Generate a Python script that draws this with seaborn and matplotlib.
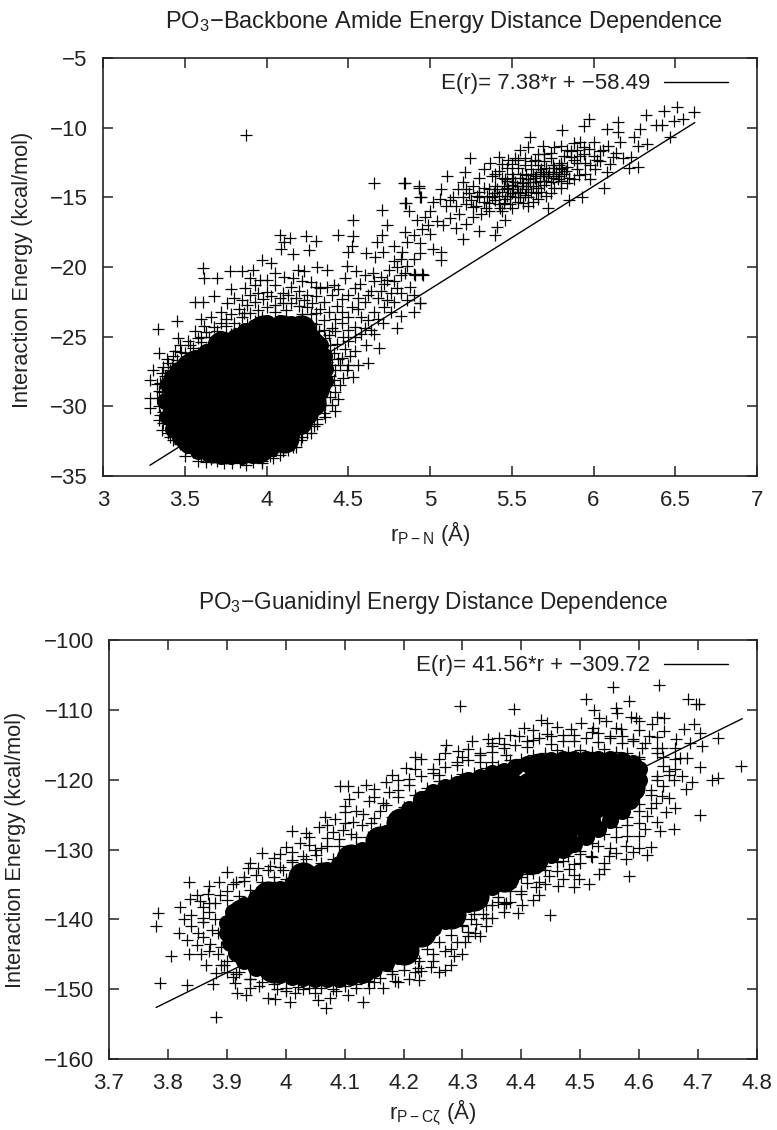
import matplotlib
matplotlib.use('Agg')
import matplotlib.pyplot as plt
import seaborn as sns

# values
# amide panel: points that can be told apart (r, E)
amide_points = [
    (3.876,-10.53),(4.66,-13.96),(4.845,-14.0),(4.93,-14.3),(4.945,-15.0),(4.855,-15.4),(4.705,-15.9),(4.87,-16.0),
    (4.53,-16.6),(4.74,-17.0),(4.08,-17.7),(4.145,-17.9),(4.11,-18.2),(4.24,-17.8),(4.30,-18.1),(4.09,-18.7),
    (4.165,-19.1),(4.26,-18.8),(4.435,-17.7),(4.53,-17.8),(4.52,-18.5),(4.50,-18.9),(3.335,-24.45),(3.455,-23.9),
    (3.56,-22.5),(3.61,-22.5),(3.68,-22.1),(3.61,-20.1),(3.62,-20.8),(3.70,-20.8),(3.775,-20.3),(3.85,-20.3),
    (3.92,-20.2),(3.97,-19.5),(4.03,-19.7),(3.78,-21.6),(3.87,-21.5),(3.93,-21.3),(4.0,-20.9),(4.11,-20.7),
    (4.19,-20.2),(4.23,-20.3),(4.31,-20.0),(4.37,-20.2),(4.27,-21.05),(4.33,-21.5),(4.41,-21.3),(4.48,-20.8),
    (4.55,-20.3),(4.49,-19.9),(4.61,-19.0),(4.665,-19.3),(4.715,-18.9),(4.78,-18.5),(4.82,-19.4),(4.675,-18.2),
    (4.705,-17.7),(4.42,-30.3),(4.31,-31.3),(4.44,-29.5),(4.45,-28.5),(4.53,-27.9),(4.62,-26.9),(4.69,-25.8),
    (4.56,-27.0),(4.49,-27.4),(4.51,-26.4),(4.54,-26.0),(4.61,-25.6),(4.655,-24.8),(4.8,-24.4),(4.71,-24.0),
    (4.82,-23.5),(4.76,-23.2),(4.94,-22.6),(4.9,-22.0),(4.88,-21.4),(4.8,-21.5),(4.95,-20.5),(4.9,-20.5),
    (3.5,-33.6),(3.58,-33.9),(3.63,-34.0),(3.74,-34.1),(3.875,-34.2),(3.97,-34.1),(4.04,-33.7),(4.10,-33.2),
    (4.16,-32.9),(4.22,-32.2),(3.285,-28.1),(3.305,-27.4),(3.36,-27.6),(3.285,-29.4),(3.29,-30.1),(3.34,-31.0),
    (3.36,-31.7),(3.41,-32.2),(3.345,-26.2),(3.44,-26.0),(3.46,-25.1),(3.33,-28.4),(3.36,-29.0),(3.37,-30.4),
    (3.39,-26.6),(3.42,-27.2),(3.47,-25.6),(3.52,-25.3),(3.56,-24.6),(3.62,-24.2),(3.6,-23.7),(3.66,-23.6),
    (3.72,-23.2),(3.76,-22.6),(3.8,-22.2),(3.85,-22.4),(3.9,-22.0),(3.95,-21.9),(4.0,-21.8),(4.05,-21.3),
    (4.1,-21.9),(4.15,-21.4),(4.2,-21.7),(4.25,-22.0),(4.3,-22.1),(4.35,-22.5),(4.4,-22.0),(4.43,-22.8),
    (4.38,-23.2),(4.42,-23.7),(4.46,-24.0),(4.5,-24.5),(4.47,-25.0),(4.43,-25.5),(4.48,-25.9),(4.44,-26.6),
    (4.42,-27.4),(4.45,-27.0),(4.41,-28.1),(4.42,-29.0),(4.4,-29.9),(4.36,-30.8),(4.33,-30.0),(4.27,-31.9),
    (4.52,-22.9),(4.56,-22.2),(4.6,-22.5),(4.64,-21.7),(4.68,-22.2),(4.72,-21.2),(4.76,-21.9),(4.58,-23.6),
    (4.62,-23.8),(4.66,-23.2),(4.72,-22.9),(4.57,-21.2),(4.6,-20.6),(4.65,-20.4),(4.7,-20.7),(4.75,-20.2),
    (4.8,-20.0),(4.85,-20.4),(4.78,-19.6),(4.83,-18.9),(4.86,-18.2),(4.9,-17.7),(4.95,-17.3),(4.85,-17.5),
    (4.92,-16.6),(4.97,-16.4),(5.0,-16.0),(4.99,-17.0),(5.04,-16.7),(4.94,-18.3),(5.0,-17.6),
    # upper cloud
    (6.615,-8.9),(6.51,-8.5),(6.43,-8.8),(6.32,-9.1),(6.545,-9.4),(6.49,-9.5),(6.38,-9.8),(6.42,-9.8),
    (6.47,-10.7),(6.285,-10.1),(6.245,-10.7),(6.325,-11.2),(6.27,-11.3),(6.15,-9.6),(6.08,-10.1),(5.97,-9.4),
    (5.94,-9.9),(5.805,-10.2),(5.61,-10.7),(6.15,-10.3),(6.16,-11.0),(6.09,-11.3),(6.12,-12.1),(6.18,-12.2),
    (6.23,-12.1),(6.27,-12.8),(6.22,-12.9),(6.08,-13.2),(6.065,-14.3),(5.93,-15.0),(5.85,-15.2),(5.72,-15.8),
    (5.46,-16.6),(5.41,-17.1),(5.4,-17.7),(5.3,-17.4),(5.2,-18.0),(5.07,-18.9),(5.065,-19.5),(5.02,-18.7),
    (4.96,-20.6),(4.91,-20.6),(4.94,-22.6),(5.245,-12.2),(5.105,-13.5),(5.215,-13.2),(5.07,-14.4),(4.93,-14.2),
    (4.84,-14.0),(4.94,-15.0),(4.85,-15.4),(5.02,-15.3),(5.06,-15.1),(5.1,-15.6),(5.14,-15.0),(5.18,-16.2),
    (5.12,-16.5),(5.08,-17.0),(5.16,-17.2),(5.22,-16.9),(5.26,-16.4),(5.22,-15.5),(5.17,-14.4),(5.2,-13.9),
    (5.26,-14.2),(5.3,-15.0),(5.34,-15.8),(5.3,-13.6),(5.33,-13.0),(5.37,-12.5),(5.42,-12.1),(5.36,-14.4),
    (5.4,-15.2),(5.44,-16.0),(5.5,-15.8),(5.54,-15.3),(5.6,-15.6),(5.66,-15.1),(5.47,-12.9),(5.52,-12.2),
    (5.55,-11.6),(5.6,-11.4),(5.64,-12.3),(5.69,-11.3),(5.74,-11.8),(5.8,-11.3),(5.84,-11.6),(5.88,-11.1),
    (5.92,-11.0),(5.97,-11.5),(6.0,-12.0),(6.04,-11.7),(5.95,-12.5),(6.01,-13.0),(5.9,-13.0),(5.85,-13.6),
    (5.8,-14.3),(5.74,-14.7),(5.35,-14.9),(5.4,-14.2),(5.44,-13.6),(5.48,-14.4),(5.52,-13.9),(5.56,-13.3),
    (5.6,-14.2),(5.64,-13.6),(5.68,-13.0),(5.72,-13.5),(5.76,-12.9),(5.8,-12.5),(5.84,-12.8),(5.88,-12.3),
    (5.92,-12.0),(5.42,-14.9),(5.46,-15.1),(5.5,-14.7),(5.54,-14.6),(5.58,-14.8),(5.62,-14.6),(5.66,-14.3),
    (5.7,-14.1),(5.74,-13.9),(5.78,-13.7),(5.82,-13.3),(5.5,-13.3),(5.54,-12.9),(5.58,-12.7),(5.62,-13.0),
    (5.66,-12.7),(5.7,-12.4),(5.74,-12.2),(5.45,-14.2),(5.5,-14.1),(5.56,-14.2),(5.6,-13.7),(5.65,-13.9),
    (5.7,-13.5),(5.75,-13.3),(5.8,-13.0),(5.3,-14.6),(5.25,-15.2),(5.38,-13.5),(5.42,-13.1),(5.46,-13.7),
    # darkest part of the upper cloud
    (5.44,-14.6),(5.47,-14.3),(5.49,-14.9),(5.51,-14.4),(5.53,-14.2),(5.55,-14.7),(5.57,-14.0),(5.59,-14.4),
    (5.61,-13.9),(5.63,-14.2),(5.65,-13.5),(5.67,-13.8),(5.69,-13.3),(5.71,-13.8),(5.73,-13.2),(5.75,-13.6),
    (5.77,-13.2),(5.79,-13.5),(5.81,-12.9),(5.83,-13.1),(5.47,-13.8),(5.51,-13.6),(5.55,-13.6),(5.59,-13.4),
    (5.63,-13.3),(5.67,-13.2),(5.71,-12.9),(5.75,-12.7),(5.79,-12.7),(5.36,-15.4),(5.39,-14.7),(5.42,-15.5),
    (5.33,-14.3),(5.28,-15.6),(5.24,-14.7),(5.2,-15.0),(5.16,-15.6),(5.12,-15.2),(5.86,-12.1),(5.9,-12.5),
    (5.94,-11.9),(5.98,-12.7),(6.02,-12.3),
    (5.22,-14.4),(5.26,-15.7),(5.29,-14.9),(5.31,-16.2),(5.33,-15.3),(5.36,-16.0),(5.38,-15.0),(5.41,-14.4),
    (5.43,-15.8),(5.45,-15.4),(5.47,-14.9),(5.49,-15.5),(5.52,-15.0),(5.55,-15.0),(5.57,-15.4),(5.6,-15.0),
    (5.63,-15.3),(5.65,-14.7),(5.68,-14.6),(5.71,-14.9),(5.76,-14.3),(5.8,-13.8),(5.84,-14.0),(5.88,-13.7),
    (5.91,-13.4),(5.95,-13.3),(5.98,-13.7),(5.4,-13.3),(5.44,-12.6),(5.48,-12.3),(5.5,-12.6),(5.54,-12.3),
    (5.58,-12.2),(5.62,-12.4),(5.66,-11.9),(5.7,-11.9),(5.76,-11.4),(5.82,-12.0),(5.86,-11.7),(5.9,-11.6),
    (5.94,-11.4),(6.0,-11.0),(6.04,-12.4),(6.06,-11.6),(6.1,-12.6),(6.14,-11.8),
    # thick part between the blob and the upper cloud
    (4.42,-24.6),(4.46,-23.2),(4.5,-23.6),(4.54,-24.3),(4.58,-24.8),(4.5,-25.3),(4.54,-25.0),(4.46,-26.5),
    (4.5,-27.0),(4.47,-28.0),(4.56,-23.0),(4.6,-24.4),(4.64,-24.5),(4.68,-23.7),(4.62,-22.0),(4.66,-21.0),
    (4.7,-21.7),(4.74,-20.9),(4.78,-21.0),(4.82,-20.6),(4.86,-19.9),(4.9,-19.4),(4.94,-19.0),(4.74,-22.4),
    (4.78,-22.5),(4.82,-21.9),(4.86,-22.4),(4.9,-23.2),(4.46,-22.3),(4.5,-22.0),(4.54,-21.5),(4.44,-21.6),
    (4.37,-21.4),(4.3,-21.4),(4.22,-21.0),(4.16,-20.8),(4.05,-20.4),(3.96,-20.9),(3.9,-20.8),
]
# amide panel: dense band along the edge of the blob
amide_band = [
    (3.45,-26.7),(3.5,-26.2),(3.55,-25.8),(3.6,-25.4),(3.65,-25.0),(3.7,-24.6),(3.75,-24.2),(3.8,-24.0),
    (3.85,-23.6),(3.9,-23.3),(3.95,-23.1),(4.0,-22.9),(4.05,-22.7),(4.1,-22.6),(4.15,-22.6),(4.2,-22.8),
    (4.25,-22.9),(4.3,-23.3),(4.35,-23.8),(4.4,-24.4),(3.48,-27.0),(3.53,-26.6),(3.58,-26.2),(3.63,-25.9),
    (3.68,-25.5),(3.73,-25.1),(3.78,-24.8),(3.83,-24.4),(3.88,-24.1),(3.93,-23.9),(3.78,-23.4),(3.83,-23.0),
    (3.88,-22.7),(3.93,-22.5),(3.98,-22.3),(4.03,-22.1),(4.08,-22.2),(4.13,-22.0),(4.18,-22.2),(4.23,-22.4),
    (4.28,-22.6),(4.33,-23.0),(3.68,-24.3),(3.63,-24.7),(3.58,-25.1),(3.53,-25.6),(3.48,-26.1),(3.43,-26.4),
    (4.27,-24.0),(4.32,-24.6),(4.36,-25.1),(4.39,-25.6),(4.41,-26.2),(4.4,-27.0),(4.39,-27.8),(4.38,-28.5),
    (4.39,-29.3),(4.36,-29.9),(4.35,-30.5),(4.31,-30.9),(4.29,-31.4),(4.25,-31.9),(4.21,-32.4),(4.18,-32.9),
    (4.13,-33.1),(4.08,-33.5),(4.02,-33.6),(3.97,-33.9),(3.92,-34.0),(3.84,-34.0),(3.79,-34.1),(3.7,-33.9),
    (3.66,-33.8),(3.6,-33.5),(3.55,-33.3),(3.51,-33.0),(3.47,-32.7),(3.43,-32.4),(3.4,-31.9),(3.37,-31.2),
    (3.35,-30.6),(3.34,-30.0),(3.33,-29.4),(3.34,-28.9),(3.35,-28.3),(3.38,-27.8),(3.41,-27.4),(3.44,-27.5),
    (3.38,-29.9),(3.39,-30.8),(3.42,-31.5),(3.46,-32.2),(3.39,-28.5),(3.37,-27.2),(3.4,-26.9),(4.33,-27.5),
    (4.36,-28.9),(4.34,-26.2),(4.37,-26.8),(4.33,-29.8),(4.28,-30.7),(4.24,-31.2),(4.17,-32.2),(4.12,-32.6),
    (4.06,-33.1),(3.45,-28.0),(3.43,-29.2),(3.44,-30.4),(3.48,-31.6),(3.55,-32.8),(3.63,-33.3),(3.75,-33.7),
    (3.6,-25.0),(3.72,-24.0),(3.75,-23.7),(3.86,-23.3),(3.97,-23.6),(4.05,-23.2),(4.12,-23.1),(4.22,-23.4),
    (4.3,-24.1),(4.27,-23.4),(4.35,-24.5),(4.38,-24.9),
]
# amide panel: middle of the solid black blob, filled rows (E, r values)
amide_core = [
    (-24.5, [3.98, 4.10, 4.21]),
    (-25.7, [3.73, 3.85, 3.97, 4.09, 4.22, 4.27]),
    (-27.0, [3.56, 3.68, 3.80, 3.92, 4.04, 4.16, 4.28, 4.30]),
    (-28.3, [3.47, 3.59, 3.71, 3.83, 3.95, 4.07, 4.19, 4.30]),
    (-29.7, [3.45, 3.57, 3.69, 3.81, 3.93, 4.05, 4.17, 4.27]),
    (-31.0, [3.47, 3.59, 3.71, 3.83, 3.95, 4.07, 4.19]),
    (-32.3, [3.53, 3.65, 3.77, 3.89, 4.01, 4.11]),
    (-33.0, [3.67, 3.79, 3.91, 3.95]),
]
# amide panel: outline of the solid black blob
amide_rim = [
    (3.40,-28.4),(3.38,-29.6),(3.40,-30.8),(3.43,-31.6),(3.47,-32.2),(3.52,-32.8),(3.58,-33.2),(3.65,-33.4),
    (3.72,-33.6),(3.78,-33.6),(3.85,-33.6),(3.92,-33.5),(3.98,-33.3),(4.03,-33.0),(4.09,-32.5),(4.15,-32.0),
    (4.2,-31.3),(4.26,-30.6),(4.3,-29.9),(4.33,-29.0),(4.36,-28.2),(4.36,-27.3),(4.35,-26.4),(4.33,-25.6),
    (4.28,-25.0),(4.22,-24.4),(4.15,-24.1),(4.08,-24.0),(4.0,-24.0),(3.93,-24.3),(3.87,-24.6),(3.81,-25.0),
    (3.75,-25.3),(3.69,-25.6),(3.63,-26.1),(3.57,-26.5),(3.51,-26.9),(3.46,-27.4),(3.42,-27.9),(3.62,-26.8),
    (3.44,-29.0),(3.44,-30.3),(3.5,-32.0),(3.6,-32.7),(3.72,-33.0),(4.25,-29.9),(4.2,-30.7),
]
amide_fit_r = [3.287, 6.62]
amide_fit_e = [-34.23, -9.63]
amide_xticks = [3, 3.5, 4, 4.5, 5, 5.5, 6, 6.5, 7]
amide_yticks = [-35, -30, -25, -20, -15, -10, -5]

# guanidinyl panel
guan_points = [
    (3.784,-139.1),(3.78,-140.9),(3.806,-145.3),(3.786,-149.1),(3.832,-149.4),(3.882,-154.0),(3.836,-134.7),
    (3.838,-137.1),(3.849,-136.5),(3.868,-136.4),(3.82,-138.3),(3.828,-140.0),(3.84,-139.4),(3.818,-142.0),
    (3.832,-143.0),(3.836,-145.0),(3.851,-142.0),(3.857,-144.9),(3.864,-146.6),(3.881,-147.7),(3.876,-149.2),
    (3.914,-149.1),(3.917,-150.5),(3.932,-150.9),(3.939,-149.9),(3.97,-151.3),(3.982,-151.4),(4.007,-151.9),
    (4.015,-150.6),(4.055,-151.5),(4.069,-152.7),(4.075,-151.3),(4.106,-150.8),(4.132,-151.8),(4.142,-149.9),
    (4.165,-149.9),(4.185,-148.9),(4.21,-148.6),(4.227,-148.7),(4.247,-146.8),(4.227,-146.0),(3.96,-130.5),
    (4.01,-127.3),(4.035,-127.6),(4.056,-126.8),(4.066,-125.3),(4.083,-125.6),(4.092,-120.9),(4.106,-120.9),
    (4.123,-121.8),(4.137,-120.8),(4.108,-122.7),(4.101,-123.8),(4.142,-123.0),(3.936,-132.7),(3.953,-132.7),
    (3.973,-132.4),(3.887,-134.6),(3.916,-134.6),(3.888,-136.5),(4.024,-129.1),(4.01,-130.3),(4.01,-131.5),
    (4.035,-131.3),(4.052,-130.8),(4.08,-127.5),(4.097,-127.2),(4.114,-126.0),(4.131,-124.9),(4.165,-123.4),
    (4.176,-121.8),(4.17,-120.3),
    (4.295,-109.5),(4.388,-109.9),(4.555,-106.7),(4.634,-106.5),(4.509,-108.4),(4.523,-110.0),(4.56,-109.7),
    (4.583,-108.8),(4.563,-110.5),(4.683,-108.4),(4.701,-109.1),(4.696,-109.2),(4.433,-111.4),(4.443,-111.9),
    (4.532,-111.1),(4.543,-111.6),(4.586,-111.0),(4.594,-111.1),(4.6,-111.6),(4.631,-111.0),(4.642,-111.2),
    (4.622,-112.1),(4.693,-112.1),(4.676,-112.7),(4.704,-113.3),(4.733,-114.1),(4.707,-115.2),(4.662,-114.2),
    (4.687,-114.7),(4.642,-113.0),(4.773,-118.0),(4.704,-118.2),(4.724,-120.0),(4.733,-119.8),(4.69,-120.4),
    (4.673,-119.5),(4.682,-116.9),(4.67,-116.9),(4.704,-125.0),(4.659,-127.1),(4.635,-127.4),(4.62,-129.7),
    (4.613,-130.8),(4.582,-133.8),(4.577,-131.4),(4.532,-133.5),(4.515,-135.0),(4.498,-134.2),(4.49,-135.4),
    (4.463,-135.2),(4.448,-139.4),(4.394,-139.1),(4.399,-136.4),(4.401,-138.0),(4.323,-140.7),(4.322,-141.9),
    (4.3,-140.9),(4.272,-115.0),(4.317,-114.5),(4.343,-114.2),(4.362,-114.0),(4.292,-115.9),(4.396,-113.8),
    (4.405,-112.6),(4.444,-113.5),(4.484,-112.8),(4.501,-111.9),(4.521,-112.6),(4.569,-112.8),(4.589,-114.2),
    (4.617,-113.8),(4.639,-115.4),(4.23,-117.1),(4.204,-118.3),(4.261,-117.1),(4.329,-116.4),(4.351,-115.2),
    (4.374,-116.4),(4.651,-118.8),(4.659,-120.0),(4.639,-122.3),(4.628,-123.3),(4.645,-124.7),(4.614,-125.2),
    (4.6,-128.0),(4.577,-129.5),(4.549,-130.9),(4.518,-130.9),(4.481,-132.8),(4.447,-133.8),(4.425,-135.4),
    (4.374,-137.6),(4.351,-138.0),(4.314,-140.0),
    (3.87,-139.0),(3.875,-141.5),(3.872,-143.5),(3.885,-145.0),(3.895,-146.5),(3.9,-147.5),(3.915,-147.8),
    (3.94,-148.6),(3.955,-149.6),(3.985,-150.0),(4.0,-150.3),(4.03,-150.0),(4.05,-150.5),(4.085,-150.2),
    (4.12,-149.8),(4.15,-149.0),(4.18,-147.8),(4.2,-147.2),(4.225,-146.9),(4.25,-145.0),(4.27,-144.6),
    (4.29,-143.2),(4.285,-145.2),(4.31,-142.4),(4.335,-139.3),(4.36,-137.5),(4.38,-136.0),(4.41,-134.8),
    (4.44,-132.9),(4.47,-131.6),(4.5,-130.7),(4.53,-129.5),(4.56,-128.2),(4.58,-126.5),(4.6,-124.5),
    (4.62,-122.2),(4.63,-120.0),(4.64,-118.0),(4.63,-116.2),(4.605,-115.4),(4.57,-114.8),(4.53,-114.6),
    (4.49,-114.4),(4.45,-114.9),(4.41,-115.3),(4.37,-114.9),(4.33,-117.5),(4.29,-117.9),(4.25,-119.0),
    (4.21,-119.9),(4.19,-121.5),(4.16,-124.5),(4.145,-126.2),(4.12,-128.2),(4.09,-129.5),(4.06,-129.8),
    (4.03,-132.5),(3.995,-132.9),(3.96,-134.6),(3.93,-134.5),(3.9,-136.0),(3.88,-137.6),(3.86,-138.2),
    (4.22,-118.5),(4.26,-119.4),(4.3,-116.8),(4.35,-117.5),(4.42,-114.3),(4.47,-113.6),(4.55,-113.8),
    (4.6,-116.8),(4.66,-117.0),(4.65,-122.6),(4.61,-127.1),(4.59,-130.4),(4.54,-131.9),(4.49,-133.6),
    (4.43,-136.5),(4.41,-133.5),(4.37,-139.0),(4.34,-141.0),(4.305,-143.3),(4.26,-147.5),(4.28,-146.6),
    (4.1,-124.7),(4.07,-128.3),(4.04,-129.3),(4.15,-122.5),(4.18,-119.3),(3.99,-130.7),(3.98,-133.9),
    (4.22,-116.7),(4.27,-116.2),(4.31,-115.6),(4.35,-114.7),(4.38,-113.6),(4.42,-112.9),(4.46,-112.5),
    (4.52,-113.2),(4.56,-112.6),(4.6,-112.9),(4.63,-113.9),(4.66,-115.5),(4.64,-116.7),(4.66,-118.5),
    (4.68,-121.4),(4.66,-124.0),(4.63,-126.0),(4.6,-129.8),(4.56,-130.5),(4.54,-132.8),(4.5,-132.0),
    (4.47,-134.2),(4.44,-135.0),(4.42,-137.3),(4.38,-137.5),(4.35,-139.8),(4.33,-142.4),(4.3,-144.9),
    (4.27,-147.2),(4.23,-147.4),(3.84,-141.0),(3.85,-143.7),(3.86,-139.8),(3.855,-137.4),(3.87,-135.2),
    (3.9,-133.2),(3.94,-131.9),(3.98,-131.2),(4.0,-129.6),(4.04,-128.2),(4.07,-126.5),(4.1,-126.2),
    (4.12,-124.5),(4.15,-121.3),(4.19,-120.0),
]
# guanidinyl panel: dense band along the edge of the solid part
guan_band = [
    (3.90,-137.2),(3.92,-136.6),(3.94,-135.8),(3.96,-135.3),(3.98,-134.7),(4.0,-134.2),(4.02,-133.4),(4.04,-132.9),
    (4.06,-132.0),(4.08,-131.4),(4.10,-130.3),(4.12,-129.6),(4.14,-128.2),(4.16,-127.0),(4.18,-125.4),(4.2,-123.9),
    (4.22,-122.2),(4.24,-121.2),(4.26,-120.2),(4.28,-120.0),(4.3,-119.2),(4.32,-119.0),(4.34,-118.3),(4.36,-118.0),
    (4.38,-117.2),(4.4,-117.0),(4.42,-116.4),(4.44,-116.2),(4.46,-115.8),(4.48,-116.0),(4.5,-115.7),(4.52,-116.0),
    (4.54,-115.6),(4.56,-116.0),(4.58,-116.2),(4.6,-117.0),
    (3.91,-134.9),(3.93,-134.0),(3.95,-133.6),(3.97,-133.0),(3.99,-132.5),(4.01,-131.8),(4.03,-131.0),(4.05,-130.0),
    (4.07,-129.5),(4.09,-128.5),(4.11,-127.8),(4.13,-126.5),(4.15,-125.5),(4.17,-123.6),(4.19,-122.5),(4.21,-120.8),
    (4.23,-119.5),(4.25,-118.5),(4.27,-118.2),(4.29,-117.5),(4.31,-117.2),(4.33,-116.2),(4.35,-116.0),(4.37,-115.5),
    (4.39,-115.0),(4.41,-114.5),(4.43,-114.0),(4.45,-113.8),(4.47,-114.5),(4.49,-113.6),(4.51,-114.0),(4.53,-113.3),
    (4.55,-114.0),(4.57,-113.7),(4.59,-114.5),(4.61,-114.8),(4.63,-115.5),
    (3.88,-140.0),(3.885,-142.0),(3.89,-144.0),(3.9,-146.0),(3.92,-147.5),(3.94,-148.5),(3.96,-149.0),(3.98,-149.3),
    (4.0,-149.8),(4.02,-149.7),(4.04,-149.8),(4.06,-149.9),(4.08,-150.0),(4.1,-149.6),(4.12,-149.3),(4.14,-148.8),
    (4.16,-148.4),(4.18,-147.4),(4.2,-146.2),(4.22,-145.5),(4.24,-144.3),(4.26,-143.2),(4.28,-142.3),(4.3,-140.8),
    (4.32,-139.3),(4.34,-138.0),(4.36,-136.8),(4.38,-135.4),(4.4,-134.0),(4.42,-133.4),(4.44,-132.4),(4.46,-131.8),
    (4.48,-130.9),(4.5,-130.2),(4.52,-129.0),(4.54,-127.8),(4.56,-126.8),(4.58,-125.3),(4.6,-123.5),(4.62,-121.5),
    (4.63,-119.5),
    (3.87,-137.6),(3.86,-140.4),(3.86,-142.6),(3.87,-144.6),(3.89,-146.6),(3.91,-148.2),(4.19,-149.0),(4.22,-147.6),
    (4.25,-146.0),(4.28,-144.2),(4.31,-141.8),(4.34,-139.8),(4.37,-137.8),(4.4,-136.0),(4.43,-134.6),(4.46,-133.1),
    (4.49,-132.1),(4.52,-131.1),(4.55,-129.8),(4.58,-128.0),(4.6,-126.2),(4.62,-124.1),(4.64,-120.9),(4.65,-119.4),
]
# guanidinyl panel: solid black part, filled rows (E, r values)
guan_core = [
    (-147.0, [3.98, 4.01, 4.05, 4.09, 4.13]),
    (-144.4, [3.93, 3.965, 4.0, 4.035, 4.07, 4.105, 4.14, 4.17, 4.2]),
    (-141.8, [3.92, 3.955, 3.99, 4.025, 4.06, 4.095, 4.13, 4.165, 4.2, 4.23]),
    (-139.2, [3.925, 3.96, 3.995, 4.03, 4.065, 4.1, 4.135, 4.17, 4.205, 4.24, 4.28]),
    (-136.6, [3.97, 4.005, 4.04, 4.075, 4.11, 4.145, 4.18, 4.215, 4.25, 4.285, 4.32]),
    (-134.0, [4.03, 4.065, 4.1, 4.135, 4.17, 4.205, 4.24, 4.275, 4.31, 4.345, 4.37]),
    (-131.4, [4.11, 4.145, 4.18, 4.215, 4.25, 4.285, 4.32, 4.355, 4.39, 4.42]),
    (-128.8, [4.16, 4.195, 4.23, 4.265, 4.3, 4.335, 4.37, 4.405, 4.44, 4.47]),
    (-126.2, [4.195, 4.23, 4.265, 4.3, 4.335, 4.37, 4.405, 4.44, 4.475, 4.51]),
    (-123.6, [4.24, 4.275, 4.31, 4.345, 4.38, 4.415, 4.45, 4.485, 4.52, 4.555]),
    (-121.0, [4.31, 4.345, 4.38, 4.415, 4.45, 4.485, 4.52, 4.555, 4.585]),
    (-118.4, [4.43, 4.465, 4.5, 4.535, 4.57]),
]
# guanidinyl panel: outline of the solid part
guan_rim = [
    (3.91,-139.0),(3.93,-137.9),(3.95,-137.0),(3.97,-136.3),(3.99,-135.7),(4.01,-135.0),(4.03,-134.3),(4.05,-133.6),
    (4.07,-132.9),(4.09,-132.1),(4.11,-131.2),(4.13,-130.1),(4.15,-129.0),(4.17,-127.6),(4.19,-126.0),(4.21,-124.2),
    (4.23,-122.7),(4.25,-121.7),(4.27,-121.0),(4.29,-120.6),(4.31,-120.1),(4.33,-119.6),(4.35,-119.1),(4.37,-118.7),
    (4.39,-118.2),(4.41,-117.8),(4.43,-117.4),(4.45,-117.2),(4.47,-117.1),(4.49,-117.1),(4.51,-117.1),(4.53,-117.1),
    (4.55,-117.1),(4.57,-117.2),(4.59,-117.6),(4.6,-118.5),(4.6,-120.0),(4.595,-121.5),(4.585,-123.0),(4.57,-124.5),
    (4.55,-125.8),(4.53,-127.0),(4.51,-128.2),(4.49,-129.2),(4.47,-130.0),(4.45,-130.8),(4.43,-131.6),(4.41,-132.2),
    (4.39,-133.2),(4.37,-134.3),(4.35,-135.4),(4.33,-136.6),(4.31,-137.8),(4.29,-139.0),(4.27,-140.2),(4.25,-141.2),
    (4.23,-142.7),(4.21,-144.0),(4.19,-145.2),(4.17,-146.3),(4.15,-147.1),(4.13,-147.9),(4.11,-148.3),(4.09,-148.5),
    (4.07,-148.5),(4.05,-148.5),(4.03,-148.4),(4.01,-148.3),(3.99,-148.0),(3.97,-147.6),(3.95,-147.0),(3.93,-146.0),
    (3.915,-144.8),(3.905,-143.4),(3.9,-142.0),(3.9,-140.5),
]
guan_fit_r = [3.78, 4.775]
guan_fit_e = [-152.62, -111.27]
guan_xticks = [3.7, 3.8, 3.9, 4, 4.1, 4.2, 4.3, 4.4, 4.5, 4.6, 4.7, 4.8]
guan_yticks = [-160, -150, -140, -130, -120, -110, -100]

W, H = 777, 1130

sns.set_style('white')
plt.rcParams['font.family'] = ['Liberation Sans', 'DejaVu Sans']
plt.rcParams['mathtext.fontset'] = 'custom'
plt.rcParams['mathtext.rm'] = 'Liberation Sans'
plt.rcParams['mathtext.it'] = 'Liberation Sans:italic'
plt.rcParams['mathtext.default'] = 'regular'


def draw_panel(fig, box, points, band, core, rim, fit_r, fit_e, fit_label, xticks, yticks):
    left, top, right, bottom = box
    ax = fig.add_axes([left / W, 1 - bottom / H, (right - left) / W, (bottom - top) / H])
    core_r = [r for e, rs in core for r in rs]
    core_e = [e for e, rs in core for r in rs]
    all_points = points + band
    # the solid areas are too dense to read point by point
    sns.scatterplot(x=core_r, y=core_e, s=470, color='black', linewidth=0, ax=ax)
    sns.scatterplot(x=[p[0] for p in rim], y=[p[1] for p in rim], s=150, color='black', linewidth=0, ax=ax)
    sns.scatterplot(x=[p[0] for p in all_points], y=[p[1] for p in all_points], marker='+', s=72,
                    color='black', linewidth=0.9, ax=ax)
    sns.lineplot(x=fit_r, y=fit_e, color='black', linewidth=1.0, label=fit_label, errorbar=None, ax=ax)
    ax.set_xlim(xticks[0], xticks[-1])
    ax.set_ylim(yticks[0], yticks[-1])
    ax.set_xticks(xticks)
    ax.set_xticklabels([str(t) for t in xticks])
    ax.set_yticks(yticks)
    ax.set_yticklabels([str(t).replace('-', '\u2212') for t in yticks])
    ax.tick_params(direction='in', length=7, width=1.1, top=True, right=True, labelsize=16,
                   color='#222222', labelcolor='#222222', bottom=True, left=True)
    ax.tick_params(axis='x', pad=10)
    ax.tick_params(axis='y', pad=11)
    for s in ax.spines.values():
        s.set_color('#222222')
        s.set_linewidth(1.2)
    ax.legend(loc='upper right', frameon=False, markerfirst=False, fontsize=16, handlelength=2.9,
              handletextpad=0.6, bbox_to_anchor=(0.976, 0.995), borderaxespad=0.2, labelcolor='#222222')
    return ax


fig = plt.figure(figsize=(W / 100, H / 100), dpi=100)

draw_panel(fig, (103, 58, 757, 476), amide_points, amide_band, amide_core, amide_rim, amide_fit_r, amide_fit_e,
           'E(r)= 7.38*r + \u221258.49', amide_xticks, amide_yticks)
draw_panel(fig, (109, 640, 757, 1059), guan_points, guan_band, guan_core, guan_rim, guan_fit_r, guan_fit_e,
           'E(r)= 41.56*r + \u2212309.72', guan_xticks, guan_yticks)

txt = '#222222'
fig.text(444 / W, 1 - 22 / H, 'PO$_3$\u2212Backbone Amide Energy Distance Dependence',
         ha='center', va='center', fontsize=17, color=txt)
fig.text(433 / W, 1 - 603 / H, 'PO$_3$\u2212Guanidinyl Energy Distance Dependence',
         ha='center', va='center', fontsize=16.3, color=txt)
fig.text(430 / W, 1 - 533 / H, 'r$_{P\u2212N}$ (\u00c5)', ha='center', va='center', fontsize=16, color=txt)
fig.text(433 / W, 1 - 1113 / H, 'r$_{P\u2212C\u03b6}$ (\u00c5)', ha='center', va='center', fontsize=16, color=txt)
fig.text(23 / W, 1 - 270 / H, 'Interaction Energy (kcal/mol)', rotation=90, ha='center', va='center',
         fontsize=15.7, color=txt)
fig.text(16 / W, 1 - 850 / H, 'Interaction Energy (kcal/mol)', rotation=90, ha='center', va='center',
         fontsize=15.7, color=txt)

fig.savefig('out.png', dpi=100)
